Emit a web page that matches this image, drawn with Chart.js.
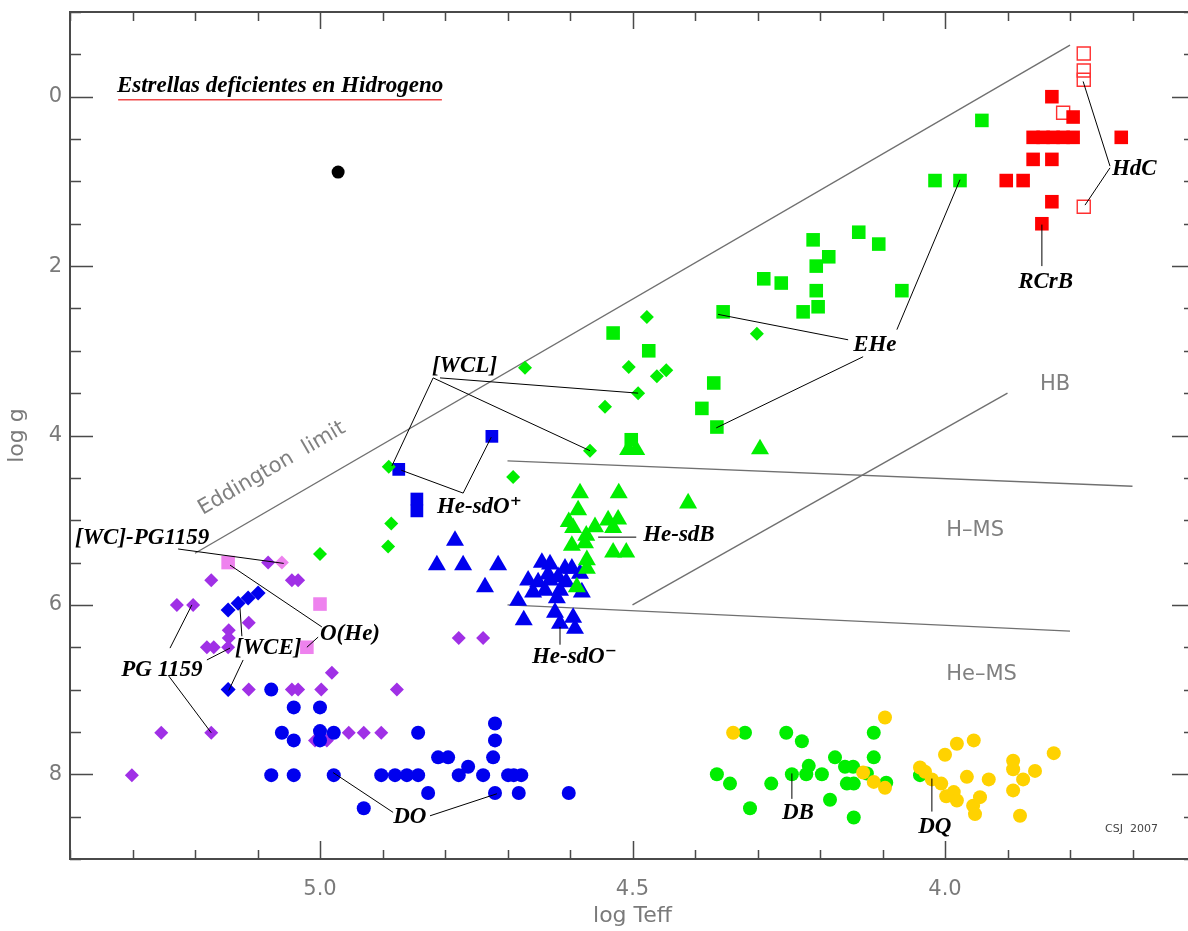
<!DOCTYPE html>
<html>
<head>
<meta charset="utf-8">
<script src="https://cdn.jsdelivr.net/npm/chart.js@4.4.1/dist/chart.umd.min.js"></script>
<style>
  html, body { margin: 0; padding: 0; background: #fff; overflow: hidden; }
  canvas { display: block; }
</style>
</head>
<body>
<canvas id="hr" width="1195" height="931"></canvas>
<script>
// ---------------------------------------------------------------
// Datos: [log Teff, log g]
// ---------------------------------------------------------------
const xTicks = [4.0, 4.5, 5.0];
const yTicks = [0, 2, 4, 6, 8];

const blackStar = [[4.971, 0.89]];

const rcrbStars = [
  [3.829, 0.0], [3.795, 0.24], [3.859, 0.48], [3.843, 0.48], [3.827, 0.48],
  [3.811, 0.48], [3.795, 0.48], [3.718, 0.48], [3.859, 0.74], [3.829, 0.74],
  [3.902, 0.99], [3.875, 0.99], [3.829, 1.24], [3.845, 1.5],
];

const hdcStars = [
  [3.778, -0.51], [3.778, -0.31], [3.778, -0.2], [3.811, 0.19], [3.778, 1.3],
];

const eheStars = [
  [3.941, 0.28], [4.016, 0.99], [3.976, 0.99], [4.211, 1.69], [4.138, 1.6],
  [4.106, 1.74], [4.186, 1.89], [4.206, 2.0], [4.29, 2.15], [4.262, 2.2],
  [4.206, 2.29], [4.069, 2.29], [4.203, 2.48], [4.227, 2.54], [4.355, 2.54],
  [4.531, 2.79], [4.474, 3.0], [4.37, 3.38], [4.389, 3.68], [4.365, 3.9],
  [4.502, 4.05],
];

const wclStars = [
  [4.477, 2.6], [4.301, 2.8], [4.506, 3.19], [4.461, 3.3], [4.446, 3.23],
  [4.491, 3.5], [4.544, 3.66], [4.568, 4.18], [4.672, 3.2], [4.89, 4.37],
  [4.691, 4.49], [4.886, 5.04], [4.891, 5.31], [5.0, 5.4],
];

const sdoPlus = [[4.725, 4.01], [4.874, 4.4], [4.845, 4.75], [4.845, 4.89]];

const sdbStars = [
  [4.584, 4.68], [4.522, 4.68], [4.411, 4.8], [4.587, 4.88], [4.602, 5.02],
  [4.539, 5.0], [4.523, 4.99], [4.595, 5.09], [4.56, 5.08], [4.574, 5.18],
  [4.531, 5.09], [4.597, 5.3], [4.576, 5.27], [4.531, 5.38], [4.51, 5.38],
  [4.573, 5.47], [4.573, 5.57], [4.589, 5.79], [4.507, 4.17], [4.494, 4.17],
  [4.296, 4.16],
];

const sdoMinus = [
  [4.784, 5.24], [4.813, 5.53], [4.771, 5.53], [4.715, 5.53], [4.736, 5.79],
  [4.683, 5.95], [4.674, 6.18], [4.645, 5.5], [4.632, 5.52], [4.608, 5.57],
  [4.597, 5.57], [4.584, 5.63], [4.667, 5.71], [4.651, 5.73], [4.632, 5.71],
  [4.619, 5.67], [4.659, 5.85], [4.616, 5.83], [4.621, 5.92], [4.581, 5.85],
  [4.624, 6.09], [4.595, 6.15], [4.616, 6.22], [4.592, 6.28], [4.635, 5.64],
  [4.606, 5.73], [4.64, 5.83],
];

const pg1159Stars = [
  [5.083, 5.5], [5.174, 5.71], [5.045, 5.71], [5.035, 5.71], [5.229, 6.0],
  [5.203, 6.0], [5.114, 6.21], [5.146, 6.3], [5.146, 6.39], [5.181, 6.5],
  [5.17, 6.5], [5.147, 6.5], [4.981, 6.8], [5.147, 7.0], [5.114, 7.0],
  [5.045, 7.0], [5.035, 7.0], [4.998, 7.0], [4.877, 7.0], [5.254, 7.51],
  [5.174, 7.51], [4.954, 7.51], [4.93, 7.51], [4.902, 7.51], [5.008, 7.6],
  [4.989, 7.6], [5.301, 8.01], [4.778, 6.39], [4.739, 6.39],
];

const wcpgStars = [[5.061, 5.5]];

const oheStars = [[5.147, 5.5], [5.0, 5.99], [5.021, 6.5]];

const wceStars = [
  [5.147, 6.06], [5.131, 5.98], [5.115, 5.92], [5.099, 5.86], [5.147, 7.0],
];

const doStars = [
  [5.078, 7.0], [5.042, 7.21], [5.0, 7.21], [5.061, 7.51], [5.042, 7.6],
  [5.0, 7.49], [5.0, 7.6], [4.978, 7.51], [5.078, 8.01], [5.042, 8.01],
  [4.978, 8.01], [4.902, 8.01], [4.88, 8.01], [4.93, 8.4], [4.861, 8.01],
  [4.843, 8.01], [4.843, 7.51], [4.827, 8.22], [4.811, 7.8], [4.795, 7.8],
  [4.778, 8.01], [4.763, 7.91], [4.739, 8.01], [4.72, 7.4], [4.72, 7.6],
  [4.723, 7.8], [4.72, 8.22], [4.699, 8.01], [4.69, 8.01], [4.678, 8.01],
  [4.682, 8.22], [4.602, 8.22],
];

const dbStars = [
  [4.32, 7.51], [4.254, 7.51], [4.229, 7.61], [4.114, 7.51], [4.365, 8.0],
  [4.344, 8.11], [4.278, 8.11], [4.245, 8.0], [4.218, 7.9], [4.222, 8.0],
  [4.197, 8.0], [4.176, 7.8], [4.16, 7.91], [4.147, 7.91], [4.157, 8.11],
  [4.146, 8.11], [4.114, 7.8], [4.125, 7.99], [4.094, 8.1], [4.312, 8.4],
  [4.184, 8.3], [4.146, 8.51], [4.04, 8.01],
];

const dqStars = [
  [4.339, 7.51], [4.096, 7.33], [4.131, 7.98], [4.114, 8.09], [4.096, 8.16],
  [4.04, 7.92], [4.032, 7.97], [4.021, 8.06], [4.006, 8.11], [4.0, 7.77],
  [3.981, 7.64], [3.954, 7.6], [3.965, 8.03], [3.93, 8.06], [3.998, 8.26],
  [3.986, 8.21], [3.981, 8.31], [3.955, 8.37], [3.944, 8.27], [3.952, 8.47],
  [3.891, 7.84], [3.891, 7.94], [3.875, 8.06], [3.856, 7.96], [3.891, 8.19],
  [3.88, 8.49], [3.826, 7.75],
];

// lineas de referencia
const eddington = [[5.2, 5.39], [3.8, -0.61]];
const hbLine = [[4.5, 6.0], [3.9, 3.5]];
const hmsLine = [[4.7, 4.3], [3.7, 4.6]];
const hemsLine = [[4.7, 6.0], [3.8, 6.31]];

// ---------------------------------------------------------------
// Anotaciones (en unidades de los ejes)
// ---------------------------------------------------------------
const leaders = [
  [4.819, 3.32, 4.885, 4.36], [4.808, 3.32, 4.491, 3.5], [4.819, 3.32, 4.568, 4.18],
  [4.771, 4.68, 4.87, 4.41], [4.771, 4.68, 4.726, 4.02],
  [4.555, 5.2, 4.494, 5.2],
  [4.616, 6.26, 4.616, 6.47],
  [5.227, 5.34, 5.058, 5.51],
  [5.144, 5.53, 4.997, 6.26], [5.003, 6.38, 5.021, 6.5],
  [5.125, 6.37, 5.128, 6.04], [5.123, 6.65, 5.146, 7.01],
  [5.24, 6.51, 5.205, 6.0], [5.181, 6.65, 5.144, 6.51], [5.243, 6.83, 5.174, 7.51],
  [4.979, 7.98, 4.883, 8.45], [4.824, 8.49, 4.717, 8.23],
  [4.245, 7.99, 4.245, 8.29],
  [4.021, 8.05, 4.021, 8.44],
  [4.363, 2.57, 4.155, 2.87], [4.131, 3.07, 4.366, 3.91], [4.077, 2.75, 3.976, 0.98],
  [3.845, 1.51, 3.845, 2.0],
  [3.779, -0.18, 3.736, 0.82], [3.736, 0.84, 3.776, 1.28],
];

const notes = [
  { text: "[WCL]", x: 4.821, y: 3.18 },
  { text: "He-sdO\u207A", x: 4.813, y: 4.85 },
  { text: "He-sdB", x: 4.483, y: 5.18 },
  { text: "He-sdO\u207B", x: 4.661, y: 6.62 },
  { text: "[WC]-PG1159", x: 5.392, y: 5.21 },
  { text: "O(He)", x: 5.0, y: 6.34 },
  { text: "[WCE]", x: 5.136, y: 6.51 },
  { text: "PG 1159", x: 5.318, y: 6.77 },
  { text: "DO", x: 4.883, y: 8.5 },
  { text: "DB", x: 4.261, y: 8.46 },
  { text: "DQ", x: 4.043, y: 8.62 },
  { text: "EHe", x: 4.147, y: 2.93 },
  { text: "RCrB", x: 3.883, y: 2.19 },
  { text: "HdC", x: 3.733, y: 0.86 },
];

const zoneNotes = [
  { text: "HB", x: 3.848, y: 3.4 },
  { text: "H\u2013MS", x: 3.998, y: 5.12 },
  { text: "He\u2013MS", x: 3.998, y: 6.82 },
];

const pts = (arr) => arr.map(([x, y]) => ({ x, y }));

function stars(data, pointStyle, radius, color, open) {
  return {
    data: pts(data),
    pointStyle,
    pointRadius: radius,
    backgroundColor: open ? "rgba(0,0,0,0)" : color,
    borderColor: color,
    borderWidth: open ? 1.4 : 0,
    showLine: false,
  };
}

function refLine(data) {
  return {
    data: pts(data),
    showLine: true,
    borderColor: "#707070",
    borderWidth: 1.4,
    pointRadius: 0,
  };
}

const GREEN = "#00ee00";
const BLUE = "#0000ee";
const PURPLE = "#a030e6";
const PINK = "#ee82ee";

// =================================================================
// Marco, marcas de los ejes y textos
// =================================================================
const decorations = {
  id: "decorations",
  afterDatasetsDraw(chart) {
    const { ctx, chartArea: a, scales } = chart;
    const X = (v) => scales.x.getPixelForValue(v);
    const Y = (v) => scales.y.getPixelForValue(v);
    ctx.save();

    // marco y marcas hacia adentro
    ctx.strokeStyle = "#4a4a4a";
    ctx.lineWidth = 2;
    ctx.strokeRect(a.left, a.top, a.right - a.left, a.bottom - a.top);
    ctx.lineWidth = 1.5;
    ctx.beginPath();
    for (let i = 36; i <= 54; i++) {
      const px = Math.round(X(i / 10)) + 0.5;
      const major = i % 5 === 0;
      ctx.moveTo(px, a.bottom); ctx.lineTo(px, a.bottom - (major ? 18 : 9));
      ctx.moveTo(px, a.top); ctx.lineTo(px, a.top + (major ? 17 : 9));
    }
    for (let i = -2; i <= 18; i++) {
      const py = Math.round(Y(i / 2)) + 0.5;
      const major = i % 4 === 0;
      ctx.moveTo(a.left, py); ctx.lineTo(a.left + (major ? 23 : 11), py);
      ctx.moveTo(a.right, py); ctx.lineTo(a.right - (major ? 23 : 11), py);
    }
    ctx.stroke();

    // lineas de las etiquetas
    ctx.strokeStyle = "#000";
    ctx.lineWidth = 1;
    ctx.beginPath();
    leaders.forEach(([x1, y1, x2, y2]) => {
      ctx.moveTo(X(x1), Y(y1));
      ctx.lineTo(X(x2), Y(y2));
    });
    ctx.stroke();

    // etiquetas de las clases
    ctx.fillStyle = "#000";
    ctx.textAlign = "left";
    ctx.textBaseline = "middle";
    ctx.font = 'italic bold 23px "Liberation Serif", "DejaVu Serif", serif';
    notes.forEach((n) => ctx.fillText(n.text, X(n.x), Y(n.y)));

    // titulo
    const title = "Estrellas deficientes en Hidrogeno";
    ctx.fillText(title, X(5.325), Y(-0.13));
    ctx.strokeStyle = "#f04848";
    ctx.lineWidth = 1.5;
    ctx.beginPath();
    ctx.moveTo(X(5.323), Y(0.035));
    ctx.lineTo(X(4.805), Y(0.035));
    ctx.stroke();

    // zonas
    ctx.fillStyle = "#808080";
    ctx.font = '21px "DejaVu Sans", sans-serif';
    zoneNotes.forEach((n) => ctx.fillText(n.text, X(n.x), Y(n.y)));

    // Eddington limit, paralelo a la linea
    const ang = Math.atan2(
      Y(eddington[1][1]) - Y(eddington[0][1]),
      X(eddington[1][0]) - X(eddington[0][0])
    );
    ctx.save();
    ctx.translate(X(5.077), Y(4.39));
    ctx.rotate(ang);
    ctx.textAlign = "center";
    ctx.font = '21px "DejaVu Sans", sans-serif';
    ctx.fillText("Eddington  limit", 0, 0);
    ctx.restore();

    ctx.fillStyle = "#444";
    ctx.font = '11px "DejaVu Sans", sans-serif';
    ctx.fillText("CSJ  2007", X(3.744), Y(8.65));

    ctx.restore();
  },
};

// quita el margen extra que Chart.js reserva para las etiquetas extremas
function noEdgePadding(s) {
  s.paddingLeft = 0;
  s.paddingRight = 0;
  s.paddingTop = 0;
  s.paddingBottom = 0;
}

new Chart(document.getElementById("hr"), {
  type: "scatter",
  data: {
    datasets: [
      stars(blackStar, "circle", 6.5, "#000"),
      stars(rcrbStars, "rect", 9.6, "#ff0000"),
      stars(hdcStars, "rect", 9.2, "#ff3030", true),
      stars(eheStars, "rect", 9.6, GREEN),
      stars(sdbStars, "triangle", 10.4, GREEN),
      stars(sdoMinus, "triangle", 10.4, BLUE),
      stars(wclStars, "rectRot", 7, GREEN),
      stars(sdoPlus, "rect", 9, BLUE),
      stars(wceStars, "rectRot", 7.5, BLUE),
      stars(doStars, "circle", 7, BLUE),
      stars(wcpgStars, "rectRot", 7, PINK),
      stars(pg1159Stars, "rectRot", 7, PURPLE),
      stars(oheStars, "rect", 9.6, PINK),
      stars(dqStars, "circle", 7, "#ffd200"),
      stars(dbStars, "circle", 7, GREEN),
      refLine(eddington),
      refLine(hbLine),
      refLine(hmsLine),
      refLine(hemsLine),
    ],
  },
  options: {
    responsive: false,
    animation: false,
    devicePixelRatio: 1,
    events: [],
    layout: { autoPadding: false, padding: { top: 12, right: 0, left: 0, bottom: 0 } },
    plugins: { legend: { display: false }, tooltip: { enabled: false } },
    scales: {
      x: {
        type: "linear",
        reverse: true,
        min: 3.6,
        max: 5.4,
        grid: { display: false, drawTicks: false },
        border: { display: false },
        afterBuildTicks: (s) => { s.ticks = xTicks.map((v) => ({ value: v })); },
        afterFit: (s) => { s.height = 72; noEdgePadding(s); },
        ticks: {
          padding: 18,
          color: "#7a7a7a",
          font: { family: "DejaVu Sans", size: 21 },
          callback: (v) => v.toFixed(1),
        },
        title: {
          display: true,
          text: "log Teff",
          color: "#7a7a7a",
          font: { family: "DejaVu Sans", size: 22 },
          padding: { top: 0, bottom: 2 },
        },
      },
      y: {
        type: "linear",
        reverse: true,
        min: -1,
        max: 9,
        grid: { display: false, drawTicks: false },
        border: { display: false },
        afterBuildTicks: (s) => { s.ticks = yTicks.map((v) => ({ value: v })); },
        afterFit: (s) => { s.width = 70; noEdgePadding(s); },
        ticks: {
          padding: 8,
          color: "#7a7a7a",
          font: { family: "DejaVu Sans", size: 21 },
        },
        title: {
          display: true,
          text: "log g",
          color: "#7a7a7a",
          font: { family: "DejaVu Sans", size: 22 },
          padding: { top: 4, bottom: 0 },
        },
      },
    },
  },
  plugins: [decorations],
});
</script>
</body>
</html>
